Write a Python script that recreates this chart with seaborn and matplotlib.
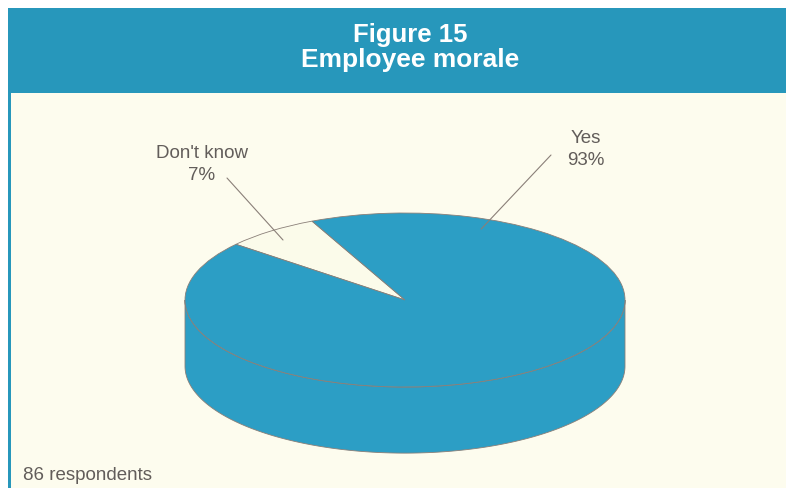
import numpy as np
import matplotlib
matplotlib.use("Agg")
import matplotlib.pyplot as plt
from matplotlib.patches import Rectangle, Polygon
import seaborn as sns

# ---- data ----
categories = ["Don't know", "Yes"]
values = [7, 93]
pct_labels = ["7%", "93%"]
title_line1 = "Figure 15"
title_line2 = "Employee morale"
footnote = "86 respondents"

sns.set_style("white")
plt.rcParams['font.family'] = ['Liberation Sans', 'DejaVu Sans']

W, H = 794, 493
fig = plt.figure(figsize=(W / 100, H / 100), dpi=100)
fig.patch.set_facecolor("white")

teal_head = "#2797bb"
teal_pie = "#2c9ec5"
cream = "#fdfcee"
wedge_light = "#fbfbea"
text_gray = "#625d5a"
edge_gray = "#8a7f78"

def fx(px):
    return px / W

def fy(py_top):
    return 1 - py_top / H

# header band and body
fig.patches.append(Rectangle((fx(8), fy(93)), fx(778), 85 / H, transform=fig.transFigure,
                             facecolor=teal_head, edgecolor="none", zorder=-2))
fig.patches.append(Rectangle((fx(8), fy(488)), fx(778), 395 / H, transform=fig.transFigure,
                             facecolor=cream, edgecolor="none", zorder=-2))
fig.patches.append(Rectangle((fx(8), fy(488)), fx(3), 395 / H, transform=fig.transFigure,
                             facecolor=teal_head, edgecolor="none", zorder=-2))

fig.text(fx(410), fy(35), title_line1, color="white", fontsize=18.5, fontweight="bold",
         ha="center", va="center")
fig.text(fx(410), fy(60), title_line2, color="white", fontsize=19, fontweight="bold",
         ha="center", va="center")
fig.text(fx(23), fy(476), footnote, color=text_gray, fontsize=13.5, ha="left", va="center")

# pie axes covering whole figure; unit circle -> 220 x 87 px ellipse
cx, cy_top = 405, 300
rx, ry = 220, 87
cy_b = H - cy_top
ax = fig.add_axes([0, 0, 1, 1], zorder=1)
ax.patch.set_alpha(0)

depth = 0.76
# cylinder side (front half)
th = np.linspace(np.pi, 2 * np.pi, 200)
top = np.column_stack([np.cos(th), np.sin(th)])
bot = np.column_stack([np.cos(th[::-1]), np.sin(th[::-1]) - depth])
side = Polygon(np.vstack([top, bot]), closed=True, facecolor=teal_pie,
               edgecolor=edge_gray, linewidth=0.6, zorder=1)
ax.add_patch(side)

startangle = 115
wedges, _ = ax.pie(values, colors=[wedge_light, teal_pie], startangle=startangle,
                   counterclock=True, radius=1, center=(0, 0),
                   wedgeprops=dict(edgecolor=edge_gray, linewidth=0.6))
for w in wedges:
    w.set_zorder(2)

ax.set_aspect("auto")
ax.set_xlim(-cx / rx, (W - cx) / rx)
ax.set_ylim(-cy_b / ry, (H - cy_b) / ry)
ax.axis("off")

# labels with leader lines
label_pos = [(202, 164.5), (586, 149.5)]  # pixel centres (from top)
line_start = [(227, 178), (551, 155)]     # pixel
line_angle = [128.8, 67.0]                # degrees on ellipse
line_r = [0.885, 0.886]

def to_data(px, py):
    return (px - cx) / rx, (H - py - cy_b) / ry

for cat, pct, lp, ls, ang, r in zip(categories, pct_labels, label_pos, line_start, line_angle, line_r):
    tx, ty = to_data(*lp)
    ax.text(tx, ty, f"{cat}\n{pct}", ha="center", va="center", color=text_gray,
            fontsize=13.5, linespacing=1.45, zorder=5)
    sx, sy = to_data(*ls)
    ex, ey = r * np.cos(np.radians(ang)), r * np.sin(np.radians(ang))
    ax.plot([sx, ex], [sy, ey], color=edge_gray, linewidth=0.8, zorder=4)

fig.savefig("out.png", dpi=100)
